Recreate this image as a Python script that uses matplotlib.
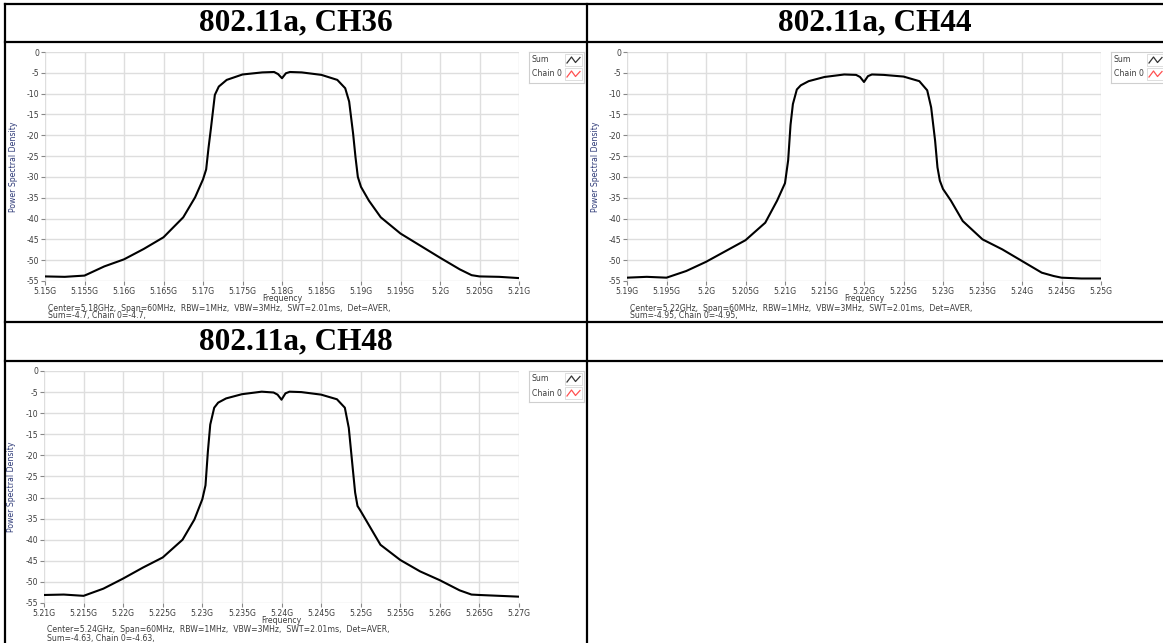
import numpy as np
import matplotlib
matplotlib.use('Agg')
import matplotlib.pyplot as plt
from matplotlib.lines import Line2D
from matplotlib.patches import Rectangle
from matplotlib.ticker import FuncFormatter, MultipleLocator

# ---------------- data ----------------
# frequency offset from the start of the 60 MHz span, in MHz
offset_mhz = [0, 2.5, 5, 7.5, 10, 12.5, 15, 17.5, 19, 20, 20.4, 20.7, 21, 21.5, 22, 23,
              25, 27.5, 29, 29.5, 30, 30.5, 31, 32.5, 35, 37, 38, 38.5, 39, 39.3, 39.6,
              40, 41, 42.5, 45, 47.5, 50, 52.5, 54, 55, 57.5, 60]

psd_ch36 = [-53.9, -54.0, -53.7, -51.5, -49.8, -47.3, -44.5, -39.7, -34.9, -30.6, -28.2,
            -23.0, -18.4, -10.3, -8.3, -6.7, -5.4, -4.9, -4.8, -5.3, -6.3, -5.1, -4.8,
            -4.9, -5.5, -6.7, -8.7, -11.9, -19.6, -25.2, -30.0, -32.4, -35.7, -39.7,
            -43.6, -46.5, -49.4, -52.2, -53.6, -53.9, -54.0, -54.3]

psd_ch44 = [-54.2, -54.0, -54.2, -52.6, -50.4, -47.8, -45.2, -41.0, -35.7, -31.5, -26.0,
            -17.5, -12.5, -9.0, -8.0, -7.0, -6.0, -5.4, -5.5, -6.0, -7.2, -5.8, -5.4,
            -5.5, -5.9, -7.0, -9.2, -13.3, -21.3, -27.7, -30.9, -32.9, -35.7, -40.6,
            -45.0, -47.4, -50.2, -53.0, -53.8, -54.2, -54.4, -54.4]

psd_ch48 = [-53.1, -53.0, -53.3, -51.6, -49.2, -46.6, -44.2, -40.0, -35.2, -30.4, -27.1,
            -19.1, -12.7, -8.7, -7.5, -6.5, -5.5, -4.9, -5.1, -5.6, -6.8, -5.3, -4.9,
            -5.0, -5.6, -6.7, -8.7, -13.5, -23.1, -28.8, -32.0, -33.2, -36.4, -41.2,
            -44.8, -47.5, -49.6, -52.0, -53.0, -53.1, -53.3, -53.5]

titles = ['802.11a, CH36', '802.11a, CH44', '802.11a, CH48']
centers_ghz = [5.18, 5.22, 5.24]
sum_vals = ['-4.7', '-4.95', '-4.63']
psd_all = [psd_ch36, psd_ch44, psd_ch48]

# ---------------- figure ----------------
W, H = 1163, 643
fig = plt.figure(figsize=(W / 100, H / 100), dpi=100)
fig.patch.set_facecolor('white')

def fx(px):
    return px / W

def fy(py):
    return 1 - py / H

# table borders
tbl_lw = 1.6
for y in [4, 42, 322, 361]:
    fig.add_artist(Line2D([fx(5), fx(1163)], [fy(y), fy(y)], color='black', lw=tbl_lw))
for x in [5, 587]:
    fig.add_artist(Line2D([fx(x), fx(x)], [fy(4), fy(643)], color='black', lw=tbl_lw))

# titles
title_pos = [(296, 23), (875, 23), (296, 342)]
for t, (tx, ty) in zip(titles, title_pos):
    fig.text(fx(tx), fy(ty), t, ha='center', va='center', fontsize=22.5,
             fontweight='bold', family='Liberation Serif')

# plot area boxes (left, top, right, bottom) in pixels
boxes = [(45, 52, 519, 281), (627, 52, 1101, 281), (44, 371, 519, 603)]
legend_x = [529, 1111, 529]

small = 5.6
tick_col = '#3c3c3c'

for k in range(3):
    l, t, r, b = boxes[k]
    ax = fig.add_axes([fx(l), fy(b), fx(r) - fx(l), fy(t) - fy(b)])
    start = centers_ghz[k] - 0.03
    freqs = [start + o / 1000.0 for o in offset_mhz]
    ax.plot(freqs, psd_all[k], color='black', lw=1.5)
    ax.set_xlim(start, start + 0.06)
    ax.set_ylim(-55, 0)
    ax.xaxis.set_major_locator(MultipleLocator(0.005))
    ax.yaxis.set_major_locator(MultipleLocator(5))
    ax.xaxis.set_major_formatter(FuncFormatter(lambda v, p: '%gG' % round(v, 4)))
    ax.yaxis.set_major_formatter(FuncFormatter(lambda v, p: '%d' % round(v)))
    ax.grid(True, color='#dedede', lw=1.0)
    ax.set_axisbelow(True)
    for s in ax.spines.values():
        s.set_visible(False)
    ax.tick_params(axis='both', labelsize=small, colors='#888888', labelcolor=tick_col,
                   length=3, width=0.8, pad=1.2)
    ax.set_ylabel('Power Spectral Density', fontsize=small, color='#2e3a78')
    ax.yaxis.set_label_coords(-0.058, 0.5)

    # x label and info lines under the plot
    fig.text(fx((l + r) / 2), fy(b + 17.5), 'Frequency', fontsize=small, color=tick_col,
             ha='center', va='center')
    fig.text(fx(l + 3), fy(b + 27), 'Center=%gGHz,  Span=60MHz,  RBW=1MHz,  VBW=3MHz,  SWT=2.01ms,  Det=AVER,'
             % centers_ghz[k], fontsize=small, color=tick_col, va='center')
    fig.text(fx(l + 3), fy(b + 35), 'Sum=%s, Chain 0=%s,' % (sum_vals[k], sum_vals[k]),
             fontsize=small, color=tick_col, va='center')

    # legend box
    lx = legend_x[k]
    lg = fig.add_axes([fx(lx), fy(t + 31), fx(55), fy(0) - fy(31)])
    lg.set_xlim(0, 55)
    lg.set_ylim(31, 0)
    lg.set_xticks([])
    lg.set_yticks([])
    for s in lg.spines.values():
        s.set_color('#cfcfcf')
        s.set_linewidth(0.8)
    lg.text(3, 8, 'Sum', fontsize=small, color=tick_col, va='center')
    lg.text(3, 22, 'Chain 0', fontsize=small, color=tick_col, va='center')
    for row, col in [(8, '#333333'), (22, '#ff5050')]:
        lg.add_patch(Rectangle((36, row - 6), 17, 12, fc='white', ec='#d8d8d8', lw=0.6))
        lg.plot([38, 42.5, 46.5, 51], [row + 3, row - 3, row + 2.5, row - 2.5], color=col, lw=0.9)

fig.savefig('out.png', dpi=100)
